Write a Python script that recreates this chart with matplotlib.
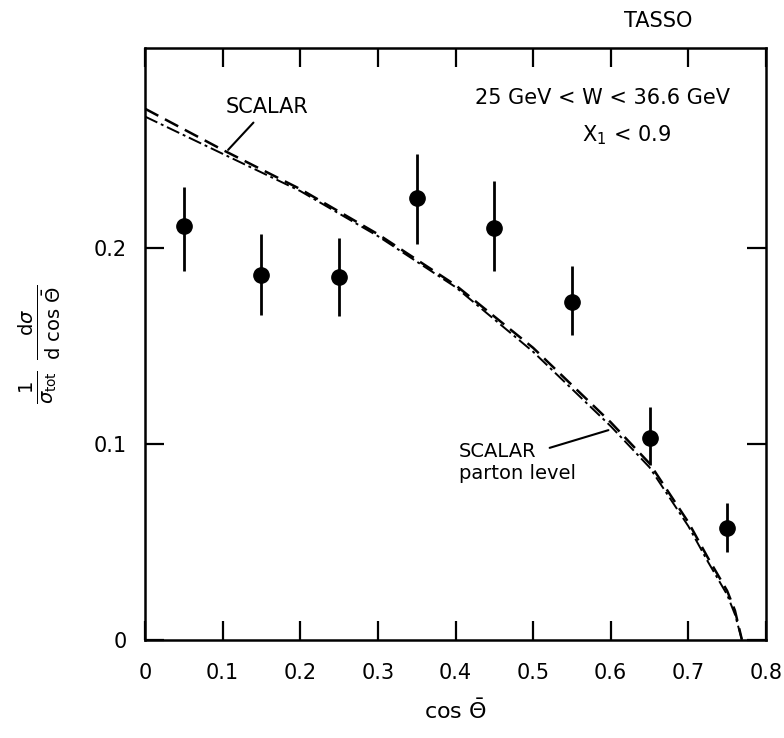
import numpy as np
import matplotlib.pyplot as plt

# data points with errors
cos_x = [0.05, 0.15, 0.25, 0.35, 0.45, 0.55, 0.65, 0.75]
dsig = [0.211, 0.186, 0.185, 0.2255, 0.210, 0.1725, 0.103, 0.057]
err_up = [0.020, 0.021, 0.020, 0.0225, 0.024, 0.0185, 0.016, 0.013]
err_dn = [0.023, 0.020, 0.020, 0.0235, 0.022, 0.017, 0.014, 0.012]

# SCALAR curves
curve_x = [0.0, 0.1, 0.2, 0.3, 0.4, 0.5, 0.6, 0.65, 0.7, 0.725, 0.75, 0.76, 0.769]
scalar = [0.271, 0.250, 0.230, 0.207, 0.181, 0.149, 0.111, 0.090, 0.060, 0.042, 0.025, 0.015, 0.0]
parton = [0.267, 0.248, 0.229, 0.206, 0.180, 0.147, 0.109, 0.088, 0.058, 0.040, 0.023, 0.013, 0.0]

xticks = [0, 0.1, 0.2, 0.3, 0.4, 0.5, 0.6, 0.7, 0.8]
xlabels = ["0", "0.1", "0.2", "0.3", "0.4", "0.5", "0.6", "0.7", "0.8"]
yticks = [0, 0.1, 0.2]
ylabels = ["0", "0.1", "0.2"]

fig = plt.figure(figsize=(7.84, 7.38), dpi=100)
ax = fig.add_axes([0.185, 0.133, 0.792, 0.802])

ax.plot(curve_x, scalar, color="black", lw=1.8, ls=(0, (6, 3)))
ax.plot(curve_x, parton, color="black", lw=1.4, ls=(0, (7, 2, 1.5, 2)))
ax.errorbar(cos_x, dsig, yerr=[err_dn, err_up], fmt="o", color="black",
            ms=11, elinewidth=2, capsize=0)

ax.set_xlim(0, 0.8)
ax.set_ylim(0, 0.302)
ax.set_xticks(xticks)
ax.set_xticklabels(xlabels)
ax.set_yticks(yticks)
ax.set_yticklabels(ylabels)
ax.tick_params(direction="in", length=14, width=1.6, top=True, right=True,
               labelsize=15)
ax.tick_params(axis="x", pad=17)
ax.tick_params(axis="y", pad=13)
for s in ax.spines.values():
    s.set_linewidth(1.8)

ax.set_xlabel(r"cos $\bar{\Theta}$", fontsize=16, labelpad=11)
ax.set_ylabel(r"$\frac{1}{\sigma_{\mathrm{tot}}}\ \frac{\mathrm{d}\sigma}{\mathrm{d}\ \cos\,\bar{\Theta}}$",
              fontsize=20, labelpad=22)

fig.text(0.839, 0.9715, "TASSO", fontsize=15, ha="center", va="center")
ax.text(0.589, 0.2765, "25 GeV < W < 36.6 GeV", fontsize=15, ha="center", va="center")
ax.text(0.620, 0.2577, r"X$_1$ < 0.9", fontsize=15, ha="center", va="center")

ax.annotate("SCALAR", xy=(0.107, 0.250), xytext=(0.104, 0.272), fontsize=15,
            va="center",
            arrowprops=dict(arrowstyle="-", color="black", lw=1.5,
                            relpos=(0.4, 0), shrinkA=3, shrinkB=0))
ax.annotate("SCALAR", xy=(0.597, 0.107), xytext=(0.404, 0.0959),
            fontsize=14, va="center",
            arrowprops=dict(arrowstyle="-", color="black", lw=1.5,
                            relpos=(1, 0.5), shrinkA=8, shrinkB=0))
ax.text(0.404, 0.0847, "parton level", fontsize=14, va="center")

fig.savefig("out.png", dpi=100)
